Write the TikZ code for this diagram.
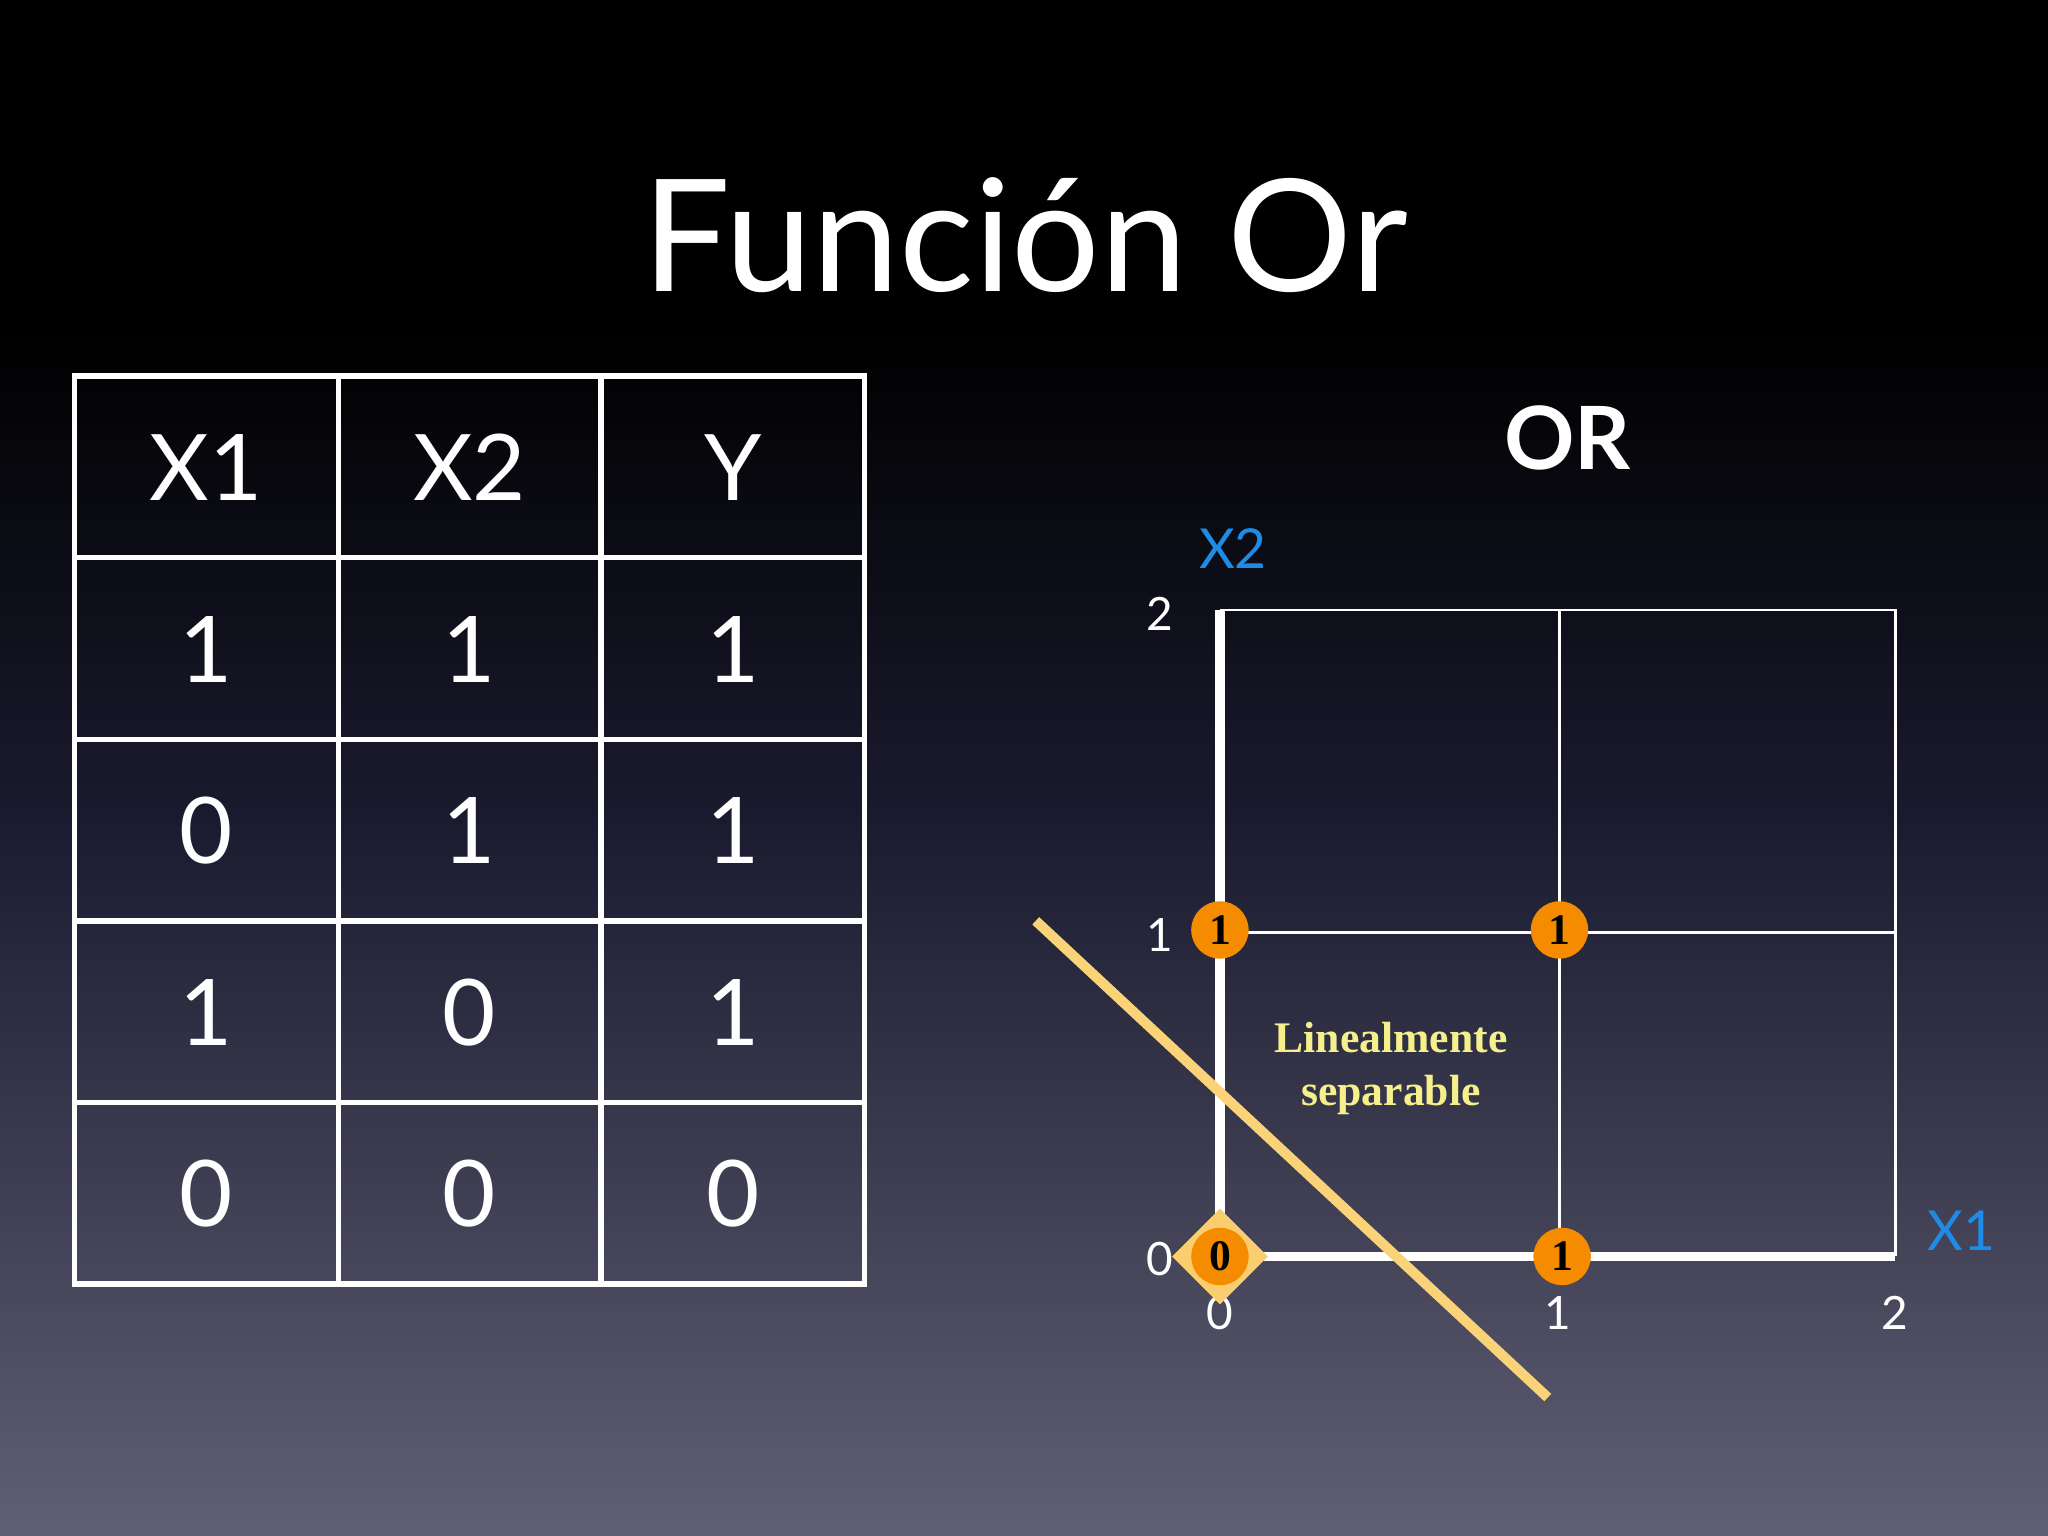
\documentclass[tikz,border=0pt]{standalone}
\usepackage{fontspec}
\setmainfont{Lato}
\newfontfamily\serifb{Liberation Serif}
\usetikzlibrary{shapes.geometric}
\definecolor{bgbot}{RGB}{96,95,116}
\definecolor{bgmid}{RGB}{26,26,46}
\definecolor{xblue}{RGB}{30,140,230}
\definecolor{dot}{RGB}{245,140,0}
\definecolor{diam}{RGB}{250,205,110}
\definecolor{sep}{RGB}{250,210,120}
\definecolor{lbl}{RGB}{245,240,140}
\tikzset{cell/.style={text=white,font=\fontsize{20}{24}\selectfont},
 tick/.style={text=white,font=\fontsize{10}{12}\selectfont},
 pt/.style={circle,fill=dot,inner sep=0pt,minimum size=12.5pt,font=\serifb\bfseries\fontsize{9.5}{10}\selectfont}}
\begin{document}
\begin{tikzpicture}[x=0.01cm,y=-0.01cm]
\fill[black] (0,0) rectangle (1568,250);
\shade[top color=black,bottom color=bgmid] (0,249) rectangle (1568,620);
\shade[top color=bgmid,bottom color=bgbot] (0,619) rectangle (1568,1176);
\useasboundingbox (0,0) rectangle (1568,1176);
\node[text=white,font=\fontsize{34}{40}\selectfont] (title) at (785,180) {Función Or};
% table
\draw[white,line width=1.2pt] (57,288) rectangle (662,983);
\foreach \x in {259,460} \draw[white,line width=1.2pt] (\x,288) -- (\x,983);
\foreach \y in {427,566,705,844} \draw[white,line width=1.2pt] (57,\y) -- (662,\y);
\foreach \t [count=\i from 0] in {X1,X2,Y} \node[cell] (h\i) at (158+201.5*\i,358) {\t};
\foreach \a/\b/\c [count=\r] in {1/1/1,0/1/1,1/0/1,0/0/0}{
 \node[cell] at (158,358+139*\r) {\a};
 \node[cell] at (359.5,358+139*\r) {\b};
 \node[cell] at (561,358+139*\r) {\c};}
% plot
\node[text=white,font=\bfseries\fontsize{19}{22}\selectfont] (or) at (1200,335) {OR};
\coordinate (o) at (934,962);
\draw[white,line width=0.6pt] (934,467) -- (1451,467) -- (1451,962);
\draw[white,line width=0.6pt] (1194,467) -- (1194,962);
\draw[white,line width=0.6pt] (934,714) -- (1451,714);
\draw[white,line width=2pt] (934,467) -- (o) -- (1451,962);
\node[text=xblue,font=\fontsize{12}{14}\selectfont] (lx2) at (944,420) {X2};
\node[text=xblue,font=\fontsize{12}{14}\selectfont] (lx1) at (1502,942) {X1};
\node[tick] at (888,470) {2};
\node[tick] at (888,716) {1};
\node[tick] at (888,964) {0};
\node[tick] at (934,1005) {0};
\node[tick] at (1193,1005) {1};
\node[tick] at (1451,1005) {2};
\coordinate (s1) at (793,705); \coordinate (s2) at (1185,1070);
\draw[sep,line width=2.2pt] (s1) -- (s2);
\node[lbl,align=center,font=\serifb\bfseries\fontsize{9.5}{11.5}\selectfont] (lin) at (1065,818) {Linealmente\\separable};
\node[diamond,fill=diam,minimum size=21pt,inner sep=0pt] (d0) at (o) {};
\node[pt] (p00) at (o) {0};
\node[pt] (p01) at (934,712) {1};
\node[pt] (p11) at (1194,712) {1};
\node[pt] (p10) at (1196,962) {1};
\end{tikzpicture}
\end{document}
